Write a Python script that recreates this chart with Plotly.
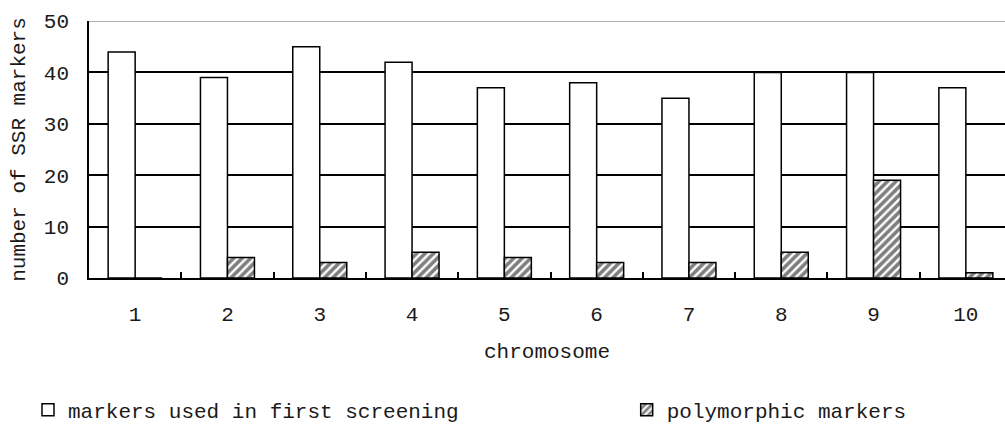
import plotly.graph_objects as go

chromosomes = ["1", "2", "3", "4", "5", "6", "7", "8", "9", "10"]
first_screening = [44, 39, 45, 42, 37, 38, 35, 40, 40, 37]
polymorphic = [0, 4, 3, 5, 4, 3, 3, 5, 19, 1]

FONT = "Liberation Mono"
TXT = "#1a1a1a"

fig = go.Figure()
fig.add_trace(go.Bar(
    x=chromosomes, y=first_screening, name="markers used in first screening",
    marker=dict(color="white", line=dict(color="black", width=1.5)),
    legend="legend",
))
fig.add_trace(go.Bar(
    x=chromosomes, y=polymorphic, name="polymorphic markers",
    marker=dict(color="white", line=dict(color="black", width=1.5),
                pattern=dict(shape="/", fgcolor="black", bgcolor="white",
                             size=6, solidity=0.6)),
    legend="legend2",
))

leg_common = dict(orientation="h", xanchor="left", yanchor="middle",
                  font=dict(family=FONT, size=21, color=TXT),
                  bgcolor="rgba(0,0,0,0)")

fig.update_layout(
    width=1005, height=428,
    margin=dict(l=89, r=0, t=21, b=150, autoexpand=False),
    paper_bgcolor="white", plot_bgcolor="white",
    barmode="group", bargap=0.415, bargroupgap=0,
    font=dict(family=FONT, size=21, color=TXT),
    showlegend=True,
    legend=dict(x=-0.0666, y=-0.514, **leg_common),
    legend2=dict(x=0.587, y=-0.514, **leg_common),
    xaxis=dict(
        type="category", range=[-0.5, 9.424], automargin=False,
        showline=True, linecolor="black", linewidth=1.5,
        ticks="inside", ticklen=6, tickwidth=1.5, tickcolor="black",
        tickson="boundaries", showgrid=False,
        ticklabelstandoff=16,
        tickfont=dict(family=FONT, size=21, color=TXT),
        title=dict(text="chromosome", standoff=17,
                   font=dict(family=FONT, size=21, color=TXT)),
    ),
    yaxis=dict(
        range=[0, 50.01], tickvals=[0, 10, 20, 30, 40, 50], automargin=False,
        showline=True, linecolor="black", linewidth=1.5,
        ticks="inside", ticklen=7, tickwidth=1.5, tickcolor="black",
        showgrid=True, gridcolor="black", gridwidth=1.5,
        zeroline=False,
        ticklabelstandoff=14,
        tickfont=dict(family=FONT, size=21, color=TXT),
        title=dict(text="number of SSR markers", standoff=12,
                   font=dict(family=FONT, size=21, color=TXT)),
    ),
)
fig.add_shape(type="line", xref="paper", yref="y", x0=0, x1=1, y0=50, y1=50,
              line=dict(color="#9a9a9a", width=1.5), layer="above")

fig.write_html("out.html", config={"displayModeBar": False},
               post_script="document.body.style.margin='0';")
